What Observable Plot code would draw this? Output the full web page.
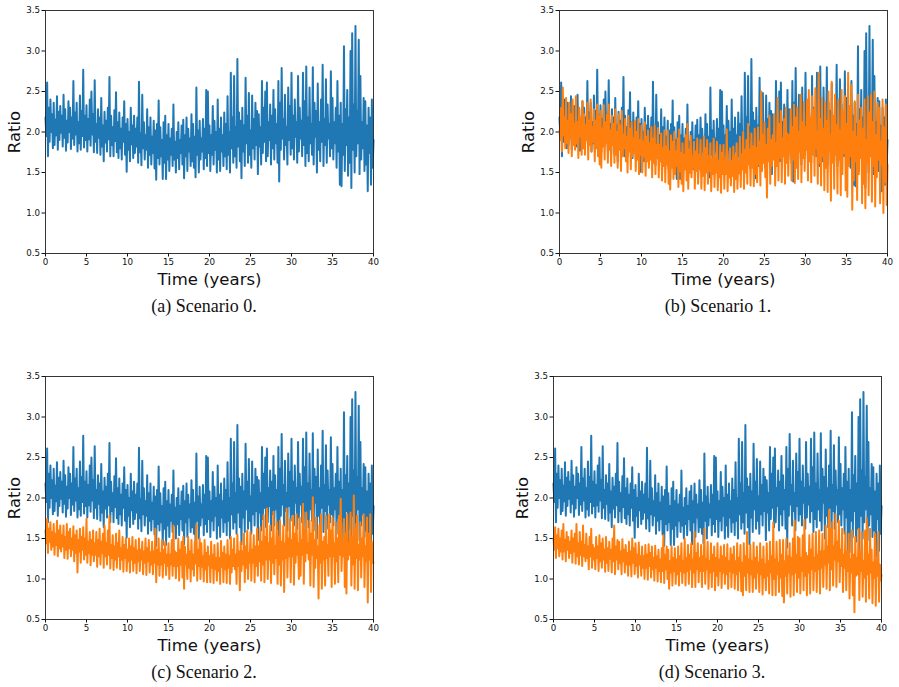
<!DOCTYPE html>
<html>
<head>
<meta charset="utf-8">
<script src="https://cdn.jsdelivr.net/npm/d3@7"></script>
<script src="https://cdn.jsdelivr.net/npm/@observablehq/plot@0.6"></script>
<style>
  body { margin: 0; background: #fff; }
  #fig { position: relative; width: 899px; height: 687px; overflow: hidden; background: #fff; }
  .panel { position: absolute; }
  .caption {
    position: absolute;
    font-family: "Liberation Serif", "DejaVu Serif", serif;
    font-size: 18px;
    line-height: 20px;
    color: #111;
    transform: translateX(-50%);
    white-space: nowrap;
  }
</style>
</head>
<body>
<div id="fig"></div>
<script>
// Sampling interval of the simulated series (years between samples).
const step = 0.1;

const xTicks = [0, 5, 10, 15, 20, 25, 30, 35, 40];
const yTicks = [0.5, 1.0, 1.5, 2.0, 2.5, 3.0, 3.5];

const captions = ["(a) Scenario 0.", "(b) Scenario 1.", "(c) Scenario 2.", "(d) Scenario 3."];

// Baseline ratio (Scenario 0), shared by every panel; one row per year.
const baseline = [
  2.18, 1.95, 2.61, 1.70, 2.30, 1.88, 2.40, 2.00, 2.22, 1.80,
  2.36, 1.84, 2.15, 1.96, 2.44, 1.78, 2.25, 1.90, 2.32, 1.99,
  2.20, 1.82, 2.46, 1.93, 2.28, 1.77, 2.14, 1.87, 2.38, 2.00,
  2.30, 1.79, 2.18, 1.92, 2.63, 1.84, 2.24, 1.97, 2.36, 1.76,
  2.12, 1.86, 2.45, 1.78, 2.26, 1.95, 2.77, 1.81, 2.20, 1.90,
  2.33, 1.76, 2.16, 1.91, 2.40, 1.83, 2.50, 1.97, 2.22, 1.75,
  2.64, 1.88, 2.10, 1.74, 2.28, 1.93, 2.18, 1.72, 2.42, 1.82,
  2.08, 1.64, 2.25, 1.87, 2.14, 1.76, 2.30, 1.91, 2.68, 1.70,
  2.20, 1.84, 2.06, 1.70, 2.27, 1.89, 2.49, 1.75, 2.12, 1.68,
  2.24, 1.80, 2.04, 1.66, 2.18, 1.88, 2.38, 1.72, 2.10, 1.51,
  2.16, 1.78, 2.00, 1.64, 2.30, 1.85, 2.08, 1.68, 2.20, 1.74,
  2.04, 1.82, 2.18, 1.62, 2.62, 1.75, 1.98, 1.59, 2.46, 1.80,
  2.12, 1.66, 1.96, 1.78, 2.28, 1.56, 2.06, 1.72, 2.18, 1.60,
  1.94, 1.74, 2.14, 1.55, 2.02, 1.41, 2.10, 1.68, 2.39, 1.60,
  2.06, 1.70, 1.90, 1.42, 2.12, 1.62, 2.20, 1.42, 1.96, 1.66,
  2.10, 1.52, 1.92, 1.72, 2.04, 1.58, 2.34, 1.66, 1.88, 1.50,
  2.00, 1.68, 2.12, 1.54, 1.90, 1.74, 2.08, 1.60, 2.15, 1.43,
  1.96, 1.70, 2.18, 1.52, 2.04, 1.76, 1.92, 1.58, 2.22, 1.64,
  2.10, 1.56, 1.94, 1.44, 2.55, 1.72, 2.02, 1.50, 2.14, 1.66,
  1.92, 1.76, 2.16, 1.54, 2.04, 1.68, 2.52, 1.58, 2.50, 1.74,
  2.08, 1.52, 1.96, 1.72, 2.32, 1.60, 2.14, 1.78, 2.00, 1.50,
  2.40, 1.66, 2.04, 1.52, 2.18, 1.76, 1.96, 1.58, 2.24, 1.70,
  2.10, 1.54, 2.44, 1.72, 2.00, 1.50, 2.73, 1.80, 2.18, 1.62,
  2.69, 1.70, 2.06, 1.56, 2.90, 1.82, 2.24, 1.64, 2.14, 1.43,
  2.30, 1.76, 2.08, 1.58, 2.67, 1.86, 2.20, 1.62, 2.48, 1.72,
  2.02, 1.56, 2.45, 1.80, 2.16, 1.66, 2.36, 1.84, 2.26, 1.48,
  2.22, 1.82, 2.06, 1.60, 2.63, 1.74, 2.30, 1.88, 2.50, 1.64,
  2.61, 1.70, 2.12, 1.90, 2.34, 1.60, 2.20, 1.80, 2.52, 1.66,
  2.28, 1.86, 2.10, 1.62, 2.63, 1.39, 2.36, 1.78, 2.79, 1.92,
  2.16, 1.66, 2.46, 1.84, 2.06, 1.60, 2.55, 1.90, 2.32, 1.72,
  2.73, 1.80, 2.20, 1.66, 2.40, 1.94, 2.12, 1.62, 2.69, 1.76,
  2.30, 1.92, 2.14, 1.70, 2.73, 1.84, 2.38, 1.58, 2.81, 1.74,
  2.18, 1.64, 2.55, 1.86, 2.10, 1.72, 2.80, 1.60, 2.36, 1.94,
  2.26, 1.50, 2.60, 1.78, 2.12, 1.64, 2.40, 1.88, 2.83, 1.58,
  2.16, 1.84, 2.65, 1.62, 2.34, 1.92, 2.10, 1.70, 2.75, 1.80,
  2.42, 1.66, 2.12, 1.86, 2.30, 1.56, 2.63, 1.76, 2.20, 1.35,
  2.36, 1.33, 2.10, 1.72, 3.06, 1.52, 2.28, 1.84, 2.52, 1.46,
  2.18, 1.62, 3.00, 1.31, 3.22, 1.78, 2.34, 1.50, 3.31, 1.70,
  2.26, 1.86, 3.14, 1.48, 2.69, 1.66, 2.12, 1.80, 2.42, 1.52,
  2.38, 1.60, 2.08, 1.27, 2.30, 1.74, 2.18, 1.35, 2.40, 1.56,
  1.90
];

// Scenario 1 ratio.
const scenario1 = [
  2.02, 1.90, 2.30, 1.76, 2.55, 1.96, 2.18, 1.80, 2.42, 1.86,
  2.14, 1.74, 2.36, 1.92, 2.22, 1.70, 2.40, 1.84, 2.10, 1.78,
  2.44, 1.86, 2.12, 1.68, 2.30, 1.94, 2.18, 1.72, 2.38, 1.80,
  2.22, 1.72, 2.08, 1.90, 2.36, 1.66, 2.14, 1.84, 2.40, 1.76,
  2.06, 1.88, 2.28, 1.64, 2.14, 1.80, 2.34, 1.70, 2.20, 1.60,
  2.26, 1.56, 2.04, 1.82, 2.33, 1.66, 2.12, 1.86, 2.22, 1.62,
  2.34, 1.78, 2.02, 1.58, 2.20, 1.84, 2.10, 1.62, 2.28, 1.72,
  2.00, 1.56, 2.22, 1.78, 2.08, 1.52, 2.26, 1.70, 1.96, 1.80,
  2.16, 1.64, 1.94, 1.50, 2.20, 1.76, 2.04, 1.54, 2.12, 1.70,
  1.92, 1.74, 2.14, 1.52, 2.00, 1.66, 2.16, 1.48, 1.90, 1.72,
  2.08, 1.50, 1.88, 1.70, 2.12, 1.46, 1.94, 1.64, 2.02, 1.56,
  1.86, 1.66, 2.06, 1.44, 1.92, 1.62, 2.08, 1.48, 1.84, 1.68,
  2.05, 1.44, 1.84, 1.64, 1.98, 1.40, 1.80, 1.58, 2.02, 1.38,
  1.82, 1.60, 2.02, 1.36, 1.76, 1.29, 1.96, 1.56, 1.88, 1.42,
  2.00, 1.48, 1.76, 1.58, 1.92, 1.32, 2.03, 1.52, 1.74, 1.36,
  1.86, 1.27, 1.72, 1.54, 1.96, 1.40, 2.10, 1.30, 1.78, 1.50,
  1.95, 1.44, 1.70, 1.56, 1.88, 1.30, 1.76, 1.52, 1.92, 1.36,
  1.72, 1.54, 1.90, 1.30, 1.68, 1.46, 1.94, 1.28, 1.80, 1.50,
  1.90, 1.36, 1.70, 1.52, 1.86, 1.27, 1.66, 1.48, 1.92, 1.32,
  1.68, 1.50, 1.88, 1.28, 1.64, 1.44, 1.84, 1.25, 1.74, 1.48,
  1.84, 1.30, 1.66, 1.48, 2.03, 1.27, 1.62, 1.44, 1.80, 1.34,
  1.64, 1.46, 1.82, 1.26, 1.70, 1.42, 1.86, 1.30, 1.62, 1.49,
  1.94, 1.32, 1.72, 1.54, 2.00, 1.30, 1.78, 1.50, 1.90, 1.36,
  2.10, 1.60, 1.78, 1.34, 1.98, 1.56, 1.82, 1.33, 2.04, 1.48,
  1.80, 1.38, 2.06, 1.60, 1.88, 1.34, 2.50, 1.52, 1.96, 1.62,
  2.12, 1.44, 1.84, 1.19, 2.04, 1.64, 2.20, 1.36, 1.90, 1.58,
  1.96, 1.66, 2.22, 1.34, 1.86, 1.58, 2.42, 1.40, 2.10, 1.68,
  2.26, 1.38, 1.92, 1.70, 2.16, 1.36, 2.30, 1.62, 1.98, 1.46,
  1.96, 1.74, 2.28, 1.40, 2.06, 1.66, 2.34, 1.37, 2.18, 1.56,
  2.30, 1.42, 2.00, 1.76, 2.46, 1.38, 2.12, 1.68, 2.36, 1.52,
  2.06, 1.78, 2.40, 1.40, 2.52, 1.64, 2.18, 1.38, 2.44, 1.72,
  2.28, 1.46, 2.54, 1.80, 2.00, 1.36, 2.73, 1.62, 2.16, 1.34,
  2.42, 1.70, 2.04, 1.28, 2.36, 1.56, 2.14, 1.26, 2.50, 1.76,
  1.96, 1.15, 2.62, 1.62, 2.20, 1.30, 2.46, 1.72, 2.08, 1.24,
  2.40, 1.66, 2.02, 1.22, 2.52, 1.48, 2.26, 1.74, 2.44, 1.28,
  2.10, 1.20, 2.73, 1.58, 2.32, 1.70, 2.58, 1.04, 2.00, 1.40,
  2.38, 1.64, 1.94, 1.16, 2.46, 1.48, 2.14, 1.68, 2.30, 1.12,
  2.04, 1.36, 2.40, 1.06, 1.90, 1.62, 2.44, 1.22, 2.24, 1.70,
  2.46, 1.14, 2.12, 1.58, 2.50, 1.08, 1.96, 1.44, 2.36, 1.66,
  2.30, 1.12, 1.88, 1.60, 2.40, 1.00, 2.06, 1.38, 2.34, 1.10,
  1.60
];

// Scenario 2 ratio.
const scenario2 = [
  1.60, 1.44, 1.74, 1.32, 1.62, 1.46, 1.70, 1.36, 1.58, 1.40,
  1.68, 1.30, 1.56, 1.42, 1.72, 1.28, 1.60, 1.38, 1.66, 1.34,
  1.54, 1.40, 1.66, 1.26, 1.52, 1.36, 1.68, 1.25, 1.58, 1.38,
  1.62, 1.28, 1.50, 1.36, 1.65, 1.22, 1.54, 1.32, 1.60, 1.08,
  1.48, 1.34, 1.62, 1.20, 1.52, 1.36, 1.64, 1.24, 1.50, 1.30,
  1.74, 1.20, 1.46, 1.32, 1.58, 1.17, 1.48, 1.30, 1.60, 1.22,
  1.44, 1.30, 1.58, 1.15, 1.48, 1.28, 1.62, 1.18, 1.46, 1.32,
  1.56, 1.14, 1.66, 1.28, 1.44, 1.18, 1.60, 1.30, 1.78, 1.13,
  1.42, 1.26, 1.54, 1.11, 1.40, 1.24, 1.56, 1.14, 1.44, 1.28,
  1.60, 1.12, 1.38, 1.24, 1.52, 1.09, 1.42, 1.26, 1.50, 1.10,
  1.36, 1.22, 1.50, 1.08, 1.40, 1.24, 1.52, 1.10, 1.38, 1.20,
  1.48, 1.07, 1.35, 1.22, 1.50, 1.10, 1.36, 1.24, 1.46, 1.06,
  1.34, 1.20, 1.50, 1.05, 1.38, 1.22, 1.48, 1.08, 1.33, 1.18,
  1.46, 1.06, 1.34, 1.20, 1.62, 0.96, 1.36, 1.18, 1.50, 1.04,
  1.32, 1.18, 1.48, 1.02, 1.36, 1.20, 1.46, 1.05, 1.30, 1.16,
  1.44, 1.00, 1.30, 1.18, 1.48, 1.04, 1.66, 1.16, 1.34, 1.01,
  1.32, 1.16, 1.50, 0.98, 1.36, 1.18, 1.46, 1.02, 1.52, 0.88,
  1.40, 1.18, 1.30, 1.00, 1.52, 1.14, 1.34, 0.97, 1.48, 1.12,
  1.30, 1.04, 1.46, 1.19, 1.68, 0.98, 1.36, 1.16, 1.50, 1.00,
  1.44, 1.15, 1.28, 0.97, 1.48, 1.12, 1.32, 0.96, 1.40, 1.17,
  1.28, 0.96, 1.46, 1.14, 1.30, 0.95, 1.42, 1.12, 1.26, 0.98,
  1.44, 1.10, 1.26, 0.94, 1.47, 1.15, 1.32, 0.96, 1.40, 1.12,
  1.30, 0.95, 1.48, 1.14, 1.28, 0.94, 1.52, 1.08, 1.36, 1.16,
  1.50, 1.12, 1.30, 0.94, 1.55, 1.16, 1.34, 0.86, 1.46, 1.10,
  1.34, 1.18, 1.56, 0.96, 1.40, 1.14, 1.60, 1.00, 1.32, 1.20,
  1.58, 0.98, 1.36, 1.20, 1.54, 0.96, 1.40, 1.16, 1.62, 1.04,
  1.40, 1.22, 1.64, 0.98, 1.46, 1.18, 1.79, 0.96, 1.52, 1.24,
  1.87, 1.00, 1.44, 1.24, 1.66, 0.95, 1.50, 1.20, 1.83, 1.06,
  1.40, 1.26, 1.70, 0.94, 1.52, 1.18, 1.72, 0.92, 1.46, 1.24,
  1.66, 0.84, 1.44, 1.26, 1.87, 1.02, 1.50, 1.28, 1.74, 0.96,
  1.48, 1.28, 1.78, 0.93, 1.56, 1.20, 1.80, 1.30, 1.44, 1.00,
  1.76, 1.04, 1.48, 1.30, 1.93, 0.94, 1.60, 1.22, 1.82, 1.32,
  1.44, 1.24, 1.72, 0.92, 1.56, 1.30, 2.01, 0.90, 1.48, 1.14,
  1.76, 1.26, 1.40, 0.76, 1.66, 1.20, 1.80, 0.88, 1.46, 1.24,
  1.52, 0.92, 1.78, 1.26, 1.42, 1.04, 1.80, 1.28, 1.60, 0.90,
  1.76, 1.28, 1.44, 0.94, 1.70, 1.22, 1.50, 0.96, 1.78, 1.30,
  1.99, 1.10, 1.46, 1.28, 1.74, 0.90, 1.56, 0.82, 1.80, 1.24,
  1.44, 1.30, 1.82, 0.92, 1.52, 1.18, 2.03, 0.88, 1.62, 1.26,
  1.78, 0.86, 1.42, 1.24, 1.70, 1.02, 1.50, 1.28, 1.80, 0.90,
  1.40, 1.22, 1.76, 0.71, 1.56, 1.24, 1.80, 0.84, 1.46, 1.20,
  1.20
];

// Scenario 3 ratio.
const scenario3 = [
  1.50, 1.36, 1.64, 1.26, 1.54, 1.38, 1.62, 1.28, 1.50, 1.34,
  1.60, 1.24, 1.68, 1.34, 1.48, 1.22, 1.58, 1.36, 1.52, 1.26,
  1.46, 1.32, 1.60, 1.20, 1.50, 1.34, 1.56, 1.19, 1.68, 1.28,
  1.44, 1.18, 1.58, 1.30, 1.46, 1.16, 1.66, 1.28, 1.42, 1.22,
  1.56, 1.26, 1.40, 1.12, 1.52, 1.28, 1.62, 1.14, 1.42, 1.24,
  1.38, 1.12, 1.52, 1.26, 1.40, 1.10, 1.54, 1.22, 1.44, 1.14,
  1.50, 1.24, 1.36, 1.09, 1.52, 1.20, 1.38, 1.10, 1.46, 1.25,
  1.36, 1.08, 1.50, 1.22, 1.66, 1.06, 1.40, 1.24, 1.48, 1.12,
  1.46, 1.20, 1.34, 1.06, 1.49, 1.22, 1.36, 1.08, 1.42, 1.18,
  1.32, 1.04, 1.46, 1.18, 1.34, 1.03, 1.50, 1.20, 1.38, 1.06,
  1.44, 1.16, 1.30, 1.02, 1.45, 1.18, 1.28, 1.04, 1.40, 1.14,
  1.28, 1.00, 1.42, 1.14, 1.30, 0.99, 1.43, 1.16, 1.32, 1.02,
  1.40, 1.12, 1.26, 0.98, 1.41, 1.14, 1.28, 0.97, 1.36, 1.10,
  1.24, 0.96, 1.38, 1.10, 1.54, 0.95, 1.30, 1.12, 1.40, 1.00,
  1.36, 0.88, 1.22, 1.08, 1.40, 0.92, 1.26, 1.10, 1.38, 0.94,
  1.24, 1.06, 1.40, 0.92, 1.28, 1.10, 1.44, 0.95, 1.22, 1.08,
  1.50, 0.92, 1.26, 1.10, 1.42, 0.94, 1.30, 1.12, 1.44, 0.90,
  1.24, 1.08, 1.58, 0.90, 1.32, 1.12, 1.44, 0.96, 1.26, 1.10,
  1.42, 0.90, 1.28, 1.10, 1.62, 0.94, 1.24, 1.12, 1.46, 0.88,
  1.22, 1.08, 1.44, 0.90, 1.30, 1.10, 1.40, 0.86, 1.26, 1.04,
  1.44, 0.92, 1.24, 1.10, 1.40, 0.89, 1.28, 1.08, 1.42, 0.94,
  1.26, 1.06, 1.43, 0.88, 1.22, 1.10, 1.38, 0.90, 1.30, 1.08,
  1.40, 0.88, 1.22, 1.06, 1.44, 0.86, 1.26, 1.10, 1.42, 0.85,
  1.20, 0.80, 1.44, 1.04, 1.28, 0.86, 1.58, 1.08, 1.24, 0.84,
  1.42, 1.06, 1.22, 0.84, 1.45, 1.02, 1.26, 0.88, 1.40, 1.08,
  1.20, 0.84, 1.44, 1.06, 1.24, 0.81, 1.40, 1.02, 1.18, 0.86,
  1.44, 1.04, 1.22, 0.82, 1.46, 1.08, 1.28, 0.80, 1.70, 1.00,
  1.24, 0.80, 1.46, 1.06, 1.20, 0.84, 1.48, 1.02, 1.30, 0.79,
  1.48, 0.71, 1.22, 1.04, 1.50, 0.82, 1.28, 1.08, 1.44, 0.78,
  1.26, 1.06, 1.50, 0.80, 1.72, 1.08, 1.30, 0.84, 1.52, 1.02,
  1.50, 0.82, 1.26, 1.10, 1.54, 0.86, 1.73, 1.04, 1.32, 0.80,
  1.28, 1.08, 1.54, 0.82, 1.36, 1.12, 1.56, 0.86, 1.26, 1.10,
  1.58, 0.84, 1.30, 1.12, 1.60, 0.82, 1.34, 1.14, 1.56, 0.90,
  1.34, 1.18, 1.66, 0.88, 1.40, 1.20, 1.85, 0.86, 1.62, 1.12,
  1.70, 0.92, 1.40, 1.24, 1.80, 0.90, 1.46, 1.22, 1.72, 0.96,
  1.36, 1.16, 1.62, 0.84, 1.30, 1.14, 1.58, 0.86, 1.34, 1.10,
  1.56, 0.76, 1.24, 1.08, 1.60, 0.80, 1.30, 0.59, 1.52, 1.04,
  1.26, 1.06, 1.62, 0.74, 1.34, 1.10, 1.58, 0.78, 1.22, 1.02,
  1.60, 0.72, 1.75, 1.06, 1.30, 0.76, 1.62, 1.08, 1.36, 0.70,
  1.20, 1.02, 1.56, 0.67, 1.24, 1.04, 1.58, 0.72, 1.18, 0.98,
  1.05
];

const blue = "#1f77b4";
const orange = "#ff7f0e";

// Where each subplot sits on the page (left/top of its svg) and its caption line.
const layout = [
  {left: 0,   top: 0,   captionX: 204, captionY: 296},
  {left: 514, top: 0,   captionX: 718, captionY: 296},
  {left: 0,   top: 366, captionX: 204, captionY: 662},
  {left: 508, top: 366, captionX: 712, captionY: 662}
];
const comparison = [null, scenario1, scenario2, scenario3];

function seriesLine(values, color) {
  return Plot.line(values, {
    x: (d, i) => i * step,
    y: d => d,
    stroke: color,
    strokeWidth: 2
  });
}

function subplot(extra) {
  const marks = [
    Plot.axisX({ticks: xTicks, tickSize: 3.5, tickPadding: 2, fontSize: 8.7, label: null, tickFormat: d => String(d)}),
    Plot.axisY({ticks: yTicks, tickSize: 3.5, tickPadding: 2, fontSize: 8.7, label: null, tickFormat: ".1f"}),
    seriesLine(baseline, blue)
  ];
  if (extra) marks.push(seriesLine(extra, orange));
  marks.push(
    Plot.frame({stroke: "#222", strokeWidth: 0.9}),
    Plot.text(["Time (years)"], {text: d => d, frameAnchor: "bottom", lineAnchor: "middle", textAnchor: "middle", dy: 26, fontSize: 16.5, fill: "#111"}),
    Plot.text(["Ratio"], {text: d => d, frameAnchor: "left", lineAnchor: "middle", textAnchor: "middle", rotate: -90, dx: -31, fontSize: 16.5, fill: "#111"})
  );
  return Plot.plot({
    width: 383,
    height: 300,
    marginLeft: 45,
    marginRight: 10,
    marginTop: 10,
    marginBottom: 47,
    x: {domain: [0, 40]},
    y: {domain: [0.5, 3.5]},
    style: {fontFamily: "'DejaVu Sans', sans-serif", color: "#111", background: "transparent"},
    marks
  });
}

const fig = document.getElementById("fig");
layout.forEach((p, k) => {
  const wrap = document.createElement("div");
  wrap.className = "panel";
  wrap.style.left = p.left + "px";
  wrap.style.top = p.top + "px";
  wrap.appendChild(subplot(comparison[k]));
  fig.appendChild(wrap);

  const cap = document.createElement("div");
  cap.className = "caption";
  cap.style.left = p.captionX + "px";
  cap.style.top = p.captionY + "px";
  cap.textContent = captions[k];
  fig.appendChild(cap);
});
</script>
</body>
</html>
